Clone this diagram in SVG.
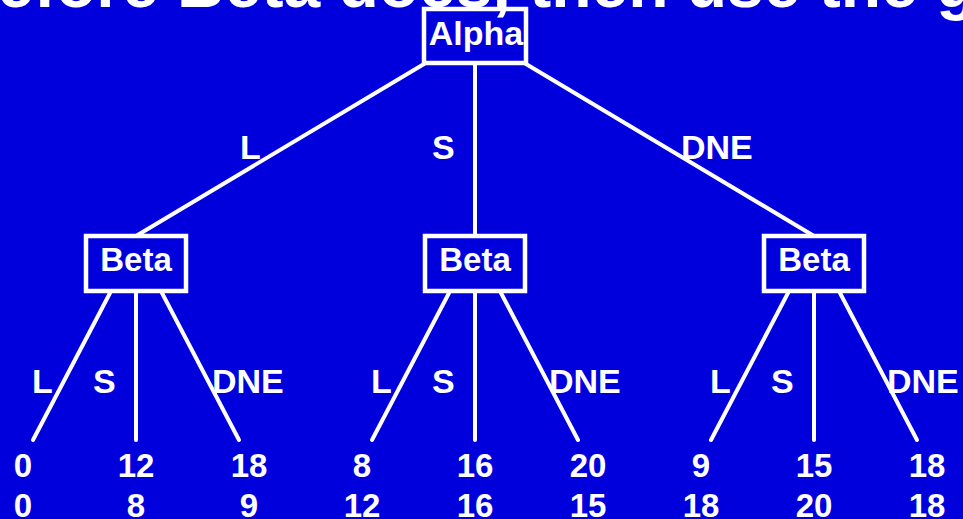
<svg xmlns="http://www.w3.org/2000/svg" width="963" height="519" viewBox="0 0 963 519">
  <style>
    text { font-family: "Liberation Sans", Arial, sans-serif; font-weight: bold; fill: #ffffff; }
    .box { fill: none; stroke: #ffffff; stroke-width: 4.5; }
    .edge { stroke: #ffffff; stroke-width: 4; stroke-linecap: round; fill: none; }
    .node { font-size: 33px; text-anchor: middle; }
    .lbl { font-size: 34px; }
    .leaf { font-size: 33px; text-anchor: middle; }
  </style>
  <rect x="0" y="0" width="963" height="519" fill="#0000dd"/>
  <text x="-43" y="7" style="font-size:66px">before Beta does, then use the g</text>

  <g id="connectors">
    <line class="edge" x1="424" y1="64" x2="136" y2="236"/>
    <line class="edge" x1="475" y1="64" x2="475" y2="236"/>
    <line class="edge" x1="526" y1="64" x2="814" y2="236"/>

    <line class="edge" x1="110" y1="293" x2="33" y2="440"/>
    <line class="edge" x1="136" y1="293" x2="136" y2="440"/>
    <line class="edge" x1="162" y1="293" x2="239" y2="440"/>

    <line class="edge" x1="449" y1="293" x2="372" y2="440"/>
    <line class="edge" x1="475" y1="293" x2="475" y2="440"/>
    <line class="edge" x1="501" y1="293" x2="578" y2="440"/>

    <line class="edge" x1="788" y1="293" x2="711" y2="440"/>
    <line class="edge" x1="814" y1="293" x2="814" y2="440"/>
    <line class="edge" x1="840" y1="293" x2="917" y2="440"/>

    <text class="lbl" x="240" y="159">L</text>
    <text class="lbl" x="432" y="159">S</text>
    <text class="lbl" x="681" y="159">DNE</text>

    <text class="lbl" x="32" y="393">L</text>
    <text class="lbl" x="93" y="393">S</text>
    <text class="lbl" x="212" y="393">DNE</text>

    <text class="lbl" x="371" y="393">L</text>
    <text class="lbl" x="432" y="393">S</text>
    <text class="lbl" x="549" y="393">DNE</text>

    <text class="lbl" x="710" y="393">L</text>
    <text class="lbl" x="771" y="393">S</text>
    <text class="lbl" x="887" y="393">DNE</text>
  </g>

  <g id="alpha">
    <rect class="box" x="424" y="9" width="102" height="54"/>
    <text class="node" x="476" y="45" style="font-size:34px">Alpha</text>
  </g>
  <g id="beta-left">
    <rect class="box" x="86" y="236" width="100" height="55"/>
    <text class="node" x="136" y="271">Beta</text>
  </g>
  <g id="beta-mid">
    <rect class="box" x="425" y="236" width="100" height="55"/>
    <text class="node" x="475" y="271">Beta</text>
  </g>
  <g id="beta-right">
    <rect class="box" x="764" y="236" width="100" height="55"/>
    <text class="node" x="814" y="271">Beta</text>
  </g>

  <g id="leaves-left">
    <text class="leaf" x="23" y="477">0</text>
    <text class="leaf" x="23" y="517">0</text>
    <text class="leaf" x="136" y="477">12</text>
    <text class="leaf" x="136" y="517">8</text>
    <text class="leaf" x="249" y="477">18</text>
    <text class="leaf" x="249" y="517">9</text>
  </g>
  <g id="leaves-mid">
    <text class="leaf" x="362" y="477">8</text>
    <text class="leaf" x="362" y="517">12</text>
    <text class="leaf" x="475" y="477">16</text>
    <text class="leaf" x="475" y="517">16</text>
    <text class="leaf" x="588" y="477">20</text>
    <text class="leaf" x="588" y="517">15</text>
  </g>
  <g id="leaves-right">
    <text class="leaf" x="701" y="477">9</text>
    <text class="leaf" x="701" y="517">18</text>
    <text class="leaf" x="814" y="477">15</text>
    <text class="leaf" x="814" y="517">20</text>
    <text class="leaf" x="927" y="477">18</text>
    <text class="leaf" x="927" y="517">18</text>
  </g>
</svg>
